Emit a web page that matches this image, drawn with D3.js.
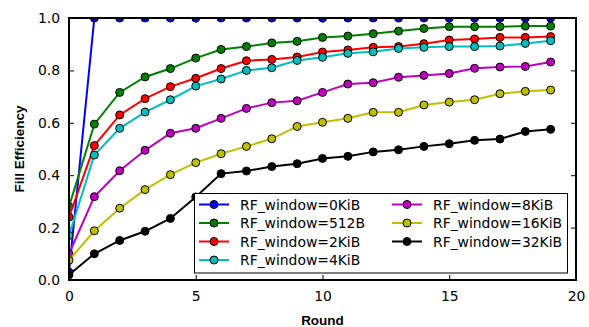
<!DOCTYPE html>
<html><head><meta charset="utf-8">
<script src="https://cdn.jsdelivr.net/npm/d3@7"></script>
<style>body{margin:0;background:#fff}svg{display:block}</style>
</head><body>
<script>
const rounds = d3.range(0, 20);
const seriesNames = ["RF_window=0KiB","RF_window=512B","RF_window=2KiB","RF_window=4KiB","RF_window=8KiB","RF_window=16KiB","RF_window=32KiB"];
const seriesColors = ["#0000ff","#008000","#ff0000","#00bfbf","#bf00bf","#bfbf00","#000000"];
const win0KiB  = [0.03,1,1,1,1,1,1,1,1,1,1,1,1,1,1,1,1,1,1,1];
const win512B  = [0.28,0.595,0.716,0.775,0.807,0.847,0.880,0.891,0.905,0.911,0.926,0.931,0.940,0.950,0.960,0.967,0.967,0.967,0.969,0.969];
const win2KiB  = [0.24,0.513,0.630,0.692,0.738,0.770,0.807,0.837,0.842,0.851,0.870,0.878,0.888,0.891,0.902,0.916,0.920,0.926,0.926,0.929];
const win4KiB  = [0.17,0.477,0.579,0.641,0.688,0.740,0.767,0.800,0.810,0.838,0.850,0.865,0.871,0.884,0.888,0.891,0.891,0.893,0.903,0.913];
const win8KiB  = [0.10,0.318,0.417,0.495,0.560,0.579,0.617,0.655,0.677,0.684,0.716,0.748,0.753,0.774,0.781,0.788,0.808,0.813,0.815,0.832];
const win16KiB = [0.075,0.188,0.274,0.345,0.402,0.448,0.482,0.510,0.539,0.586,0.602,0.617,0.640,0.640,0.668,0.679,0.688,0.711,0.720,0.725];
const win32KiB = [0.02,0.100,0.151,0.186,0.235,0.317,0.406,0.416,0.433,0.444,0.464,0.472,0.489,0.497,0.510,0.520,0.533,0.538,0.567,0.575];
const seriesValues = [win0KiB, win512B, win2KiB, win4KiB, win8KiB, win16KiB, win32KiB];
const xTicks = [0,5,10,15,20];
const yTicks = [0,0.2,0.4,0.6,0.8,1.0];

const W = 589, H = 327;
const L = 69, R = 576, T = 18, B = 280;
const svg = d3.select("body").append("svg").attr("width", W).attr("height", H);
const x = d3.scaleLinear().domain([0,20]).range([L,R]);
const y = d3.scaleLinear().domain([0,1]).range([B,T]);

svg.append("clipPath").attr("id","clip").append("rect")
  .attr("x",L).attr("y",T).attr("width",R-L).attr("height",B-T);

const tickFont = "DejaVu Sans, sans-serif";
// axes with inward ticks
const ax = svg.append("g").attr("transform",`translate(0,${B})`)
  .call(d3.axisBottom(x).tickValues(xTicks).tickSize(-5).tickPadding(11).tickFormat(d3.format("d")));
const axT = svg.append("g").attr("transform",`translate(0,${T})`)
  .call(d3.axisTop(x).tickValues(xTicks).tickSize(-5).tickFormat(""));
const ay = svg.append("g").attr("transform",`translate(${L},0)`)
  .call(d3.axisLeft(y).tickValues(yTicks).tickSize(-5).tickPadding(9).tickFormat(d3.format(".1f")));
const ayR = svg.append("g").attr("transform",`translate(${R},0)`)
  .call(d3.axisRight(y).tickValues(yTicks).tickSize(-5).tickFormat(""));
[ax,axT,ay,ayR].forEach(g=>{
  g.select(".domain").remove();
  g.selectAll(".tick line").attr("stroke","#000").attr("stroke-width",1);
  g.selectAll(".tick text").attr("font-family",tickFont).attr("font-size","13.9px").attr("fill","#000");
});

const plot = svg.append("g").attr("clip-path","url(#clip)");
const line = d3.line().x((d,i)=>x(rounds[i])).y(d=>y(d));
seriesValues.forEach((vals,si)=>{
  plot.append("path").datum(vals).attr("d",line).attr("fill","none")
    .attr("stroke",seriesColors[si]).attr("stroke-width",2);
  plot.selectAll(null).data(vals).enter().append("circle")
    .attr("cx",(d,i)=>x(rounds[i])).attr("cy",d=>y(d)).attr("r",4)
    .attr("fill",seriesColors[si]).attr("stroke","#000").attr("stroke-width",1);
});

// frame
svg.append("rect").attr("x",L).attr("y",T).attr("width",R-L).attr("height",B-T)
  .attr("fill","none").attr("stroke","#000").attr("stroke-width",2);

// legend
const lg = svg.append("g");
lg.append("rect").attr("x",194.5).attr("y",193.5).attr("width",373).attr("height",79.5)
  .attr("fill","#fff").attr("stroke","#000").attr("stroke-width",1);
seriesNames.forEach((name,i)=>{
  const col = i<4?0:1, row = i<4?i:i-4;
  const hx = col===0?199:392, cy = 204.5 + row*18.5;
  lg.append("line").attr("x1",hx).attr("x2",hx+30).attr("y1",cy).attr("y2",cy)
    .attr("stroke",seriesColors[i]).attr("stroke-width",2);
  lg.append("circle").attr("cx",hx+15).attr("cy",cy).attr("r",4)
    .attr("fill",seriesColors[i]).attr("stroke","#000").attr("stroke-width",1);
  lg.append("text").attr("x",hx+41).attr("y",cy).attr("dy","0.36em")
    .attr("font-family",tickFont).attr("font-size","13.9px").text(name);
});

// axis labels
svg.append("text").attr("x",(L+R)/2).attr("y",325).attr("text-anchor","middle")
  .attr("font-family","Liberation Sans, Arial, sans-serif").attr("font-weight","bold")
  .attr("font-size","13.5px").text("Round");
svg.append("text").attr("transform",`translate(24,${(T+B)/2}) rotate(-90)`).attr("text-anchor","middle")
  .attr("font-family","Liberation Sans, Arial, sans-serif").attr("font-weight","bold")
  .attr("font-size","13.5px").text("Fill Efficiency");
</script>
</body></html>
